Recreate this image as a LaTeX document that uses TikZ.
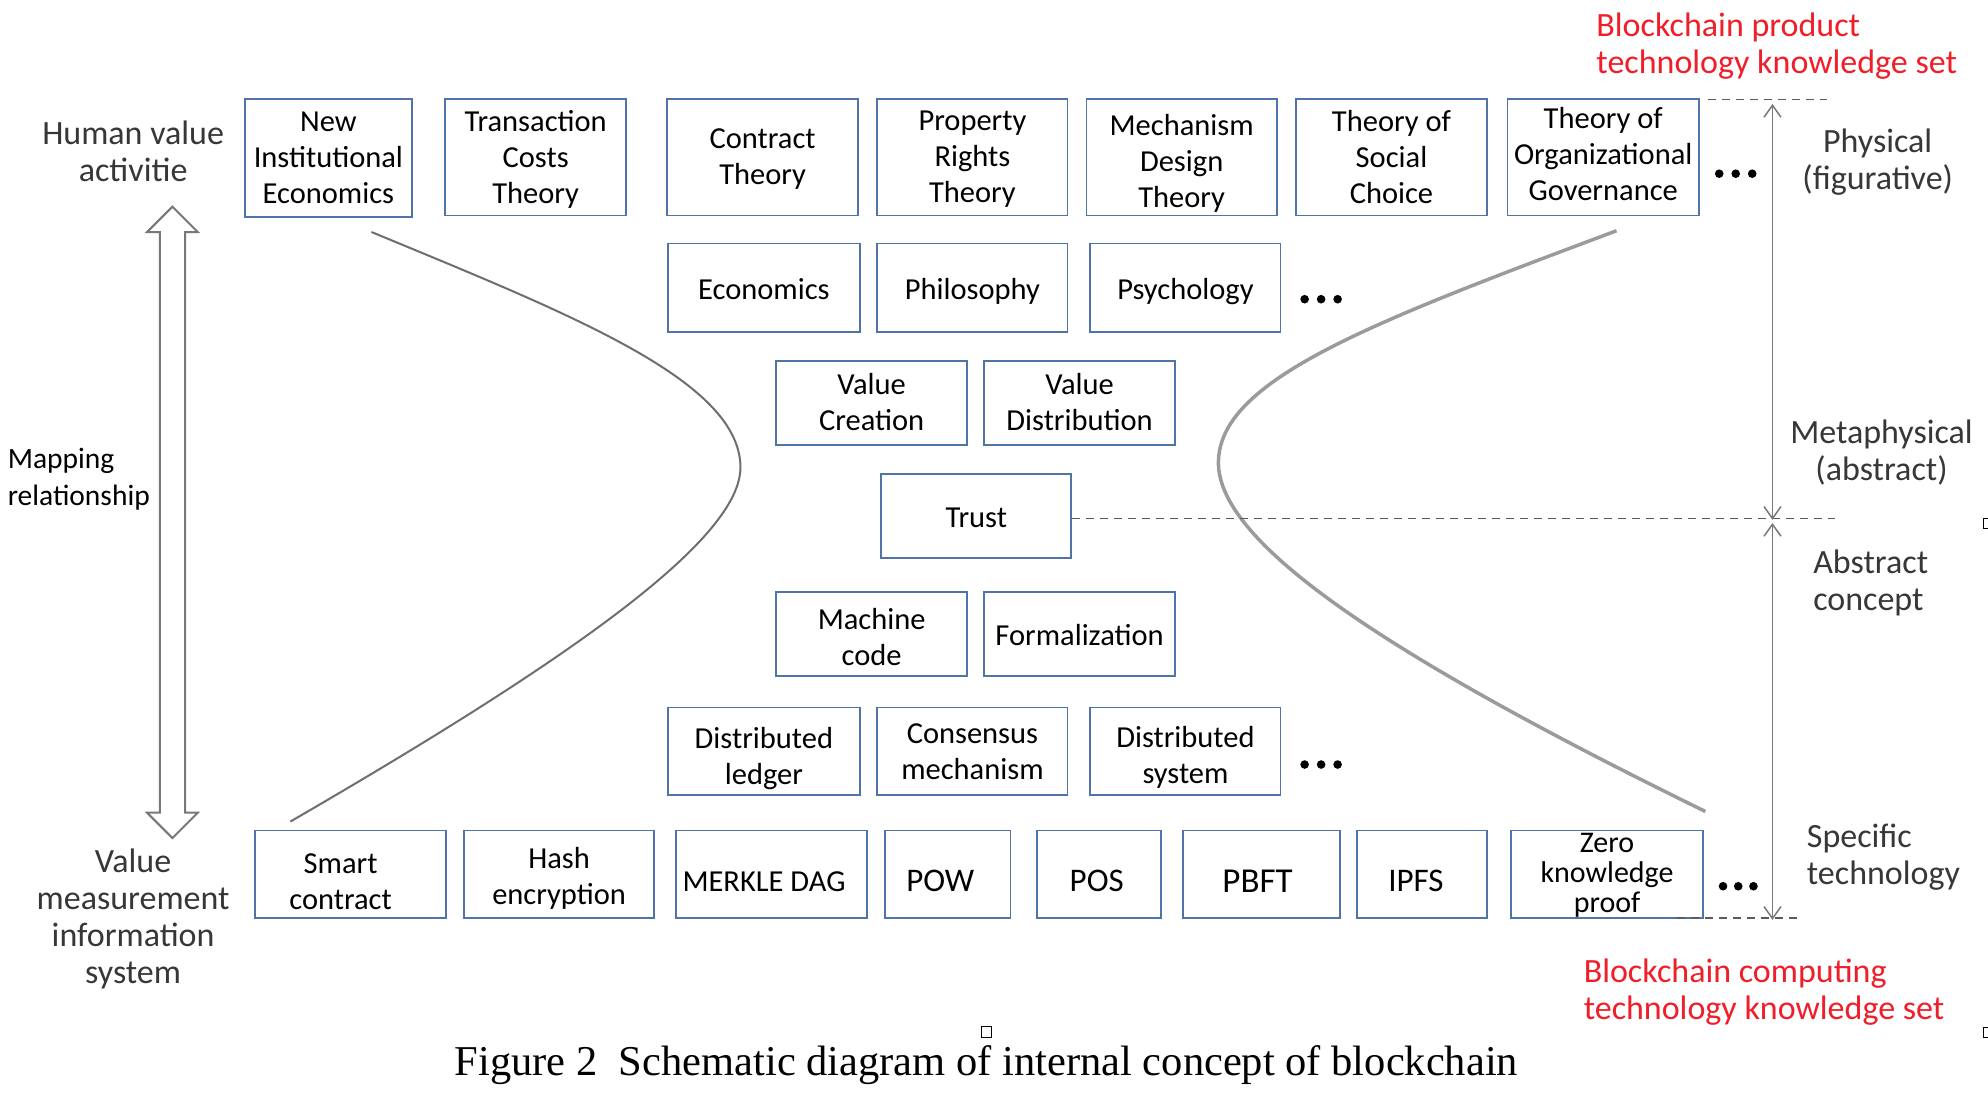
\documentclass[tikz,border=0pt]{standalone}
\usepackage{fontspec}
\setmainfont{Carlito}
\newfontfamily\capfont{Liberation Serif}
\usetikzlibrary{arrows.meta}
\definecolor{boxblue}{RGB}{80,115,170}
\definecolor{redlab}{RGB}{240,30,40}
\definecolor{sidegray}{RGB}{55,55,55}
\definecolor{curveL}{RGB}{110,110,110}
\definecolor{curveR}{RGB}{155,155,155}
\definecolor{dashgray}{RGB}{90,90,90}
\definecolor{arrgray}{RGB}{120,120,120}
\newcommand{\fst}[1]{\rule{0pt}{#1pt}}
\tikzset{
 ts/.style={execute at begin node={\rule{0pt}{#1pt}}},
 bx/.style={draw=boxblue, line width=1.8pt, inner sep=0pt, align=center, font=\fontsize{30.5}{36}\selectfont, text=black,
   ts=30, execute at end node={\rule[-8pt]{0pt}{8pt}}},
 side/.style={inner sep=0pt, text=sidegray, align=center, font=\fontsize{34}{37}\selectfont},
 redl/.style={inner sep=0pt, text=redlab, align=left, anchor=west, font=\fontsize{34}{37}\selectfont},
 dsh/.style={draw=dashgray, line width=1.3pt, dash pattern=on 8pt off 6pt},
 vline/.style={draw=arrgray, line width=1.5pt, {Straight Barb[length=12pt,width=17pt]}-{Straight Barb[length=12pt,width=17pt]}},
 hollow/.style={draw=arrgray, line width=2pt, fill=white},
 dotm/.style={fill=black},
 anchorbox/.style={draw=black, line width=0.8pt}
}
\newcommand{\bxn}[7][]{\node[bx,#1, minimum width={(#5-#3)*1.268pt}, minimum height={(#6-#4)*1.268pt}] (#2) at ({(#3+#5)/2},{(#4+#6)/2}) {#7};}
\begin{document}
\begin{tikzpicture}[x=1.268pt, y=-1.268pt]
\useasboundingbox (0,0) rectangle (1568,879);
% top row
\bxn{nie}{193}{78}{325}{171}{\fst{27}New\\Institutional\\Economics}
\bxn{tct}{351}{78}{494}{170}{\fst{28}Transaction\\Costs\\Theory}
\bxn{ct}{526}{78}{677}{170}{\fst{27}Contract\\Theory}
\bxn{prt}{692}{78}{842}{170}{\fst{27}Property\\Rights\\Theory}
\bxn{mdt}{857}{78}{1007}{170}{\fst{36}Mechanism\\Design\\Theory}
\bxn{tsc}{1022}{78}{1173}{170}{\fst{28.5}Theory of\\Social\\Choice}
\bxn{tog}{1189}{78}{1340}{170}{\fst{23.5}Theory of\\Organizational\\Governance}
% second row
\bxn[ts=32]{eco}{527}{192}{678}{262}{Economics}
\bxn[ts=32]{phi}{692}{192}{842}{262}{Philosophy}
\bxn[ts=32]{psy}{860}{192}{1010}{262}{Psychology}
% value
\bxn{vc}{612}{285}{763}{351}{\fst{26}Value\\Creation}
\bxn{vd}{776}{285}{927}{351}{\fst{26}Value\\Distribution}
\bxn[ts=24]{trust}{695}{374}{845}{440}{Trust}
\bxn{mc}{612}{467}{763}{533}{\fst{36}Machine\\code}
\bxn[ts=32]{form}{776}{467}{927}{533}{Formalization}
% distributed row
\bxn{dl}{527}{558}{678}{627}{\fst{38.5}Distributed\\ledger}
\bxn{cm}{692}{558}{842}{627}{\fst{29.5}Consensus\\mechanism}
\bxn{ds}{860}{558}{1010}{627}{\fst{36}Distributed\\system}
% bottom row
\bxn{sc}{201}{655}{352}{724}{\fst{42}Smart\hspace*{20pt}\\contract\hspace*{20pt}}
\bxn{he}{366}{655}{516}{724}{\fst{33.5}Hash\\encryption}
\bxn[ts=42]{md}{533}{655}{684}{724}{MERKLE DAG\hspace*{15pt}}
\bxn[ts=42,font=\fontsize{33}{36}\selectfont]{pow}{698}{655}{797}{724}{POW\hspace*{15pt}}
\bxn[ts=42,font=\fontsize{33}{36}\selectfont]{pos}{818}{655}{916}{724}{POS\hspace*{5pt}}
\bxn[ts=44,font=\fontsize{35}{36}\selectfont]{pbft}{933}{655}{1057}{724}{PBFT\hspace*{8pt}}
\bxn[ts=42,font=\fontsize{33}{36}\selectfont]{ipfs}{1070}{655}{1173}{724}{IPFS\hspace*{12pt}}
\bxn[inner ysep=-6pt,font=\fontsize{30}{30}\selectfont]{zkp}{1192}{655}{1343}{724}{\fst{24.5}Zero\\knowledge\\proof}
% dots
\foreach \x in {1356,1369,1382} \fill[dotm] (\x,137) circle (4.3pt);
\foreach \x in {1029,1042,1055} \fill[dotm] (\x,236) circle (4.3pt);
\foreach \x in {1029,1042,1055} \fill[dotm] (\x,603) circle (4.3pt);
\foreach \x in {1359,1371,1383} \fill[dotm] (\x,699) circle (4.3pt);
% curves
\draw[curveL, line width=2pt] (293,183) .. controls (450,248) and (583,300) .. (584,368) .. controls (585,425) and (450,520) .. (229,648);
\draw[curveR, line width=3.5pt] (1275,182) .. controls (1080,255) and (961,300) .. (961,365) .. controls (961,430) and (1100,520) .. (1345,640);
% dashed lines
\coordinate (dt1) at (1347,78.5);
\coordinate (dt2) at (1441,78.5);
\coordinate (dm2) at (1447,409);
\coordinate (db1) at (1323,724);
\coordinate (db2) at (1417,724);
\draw[dsh] (dt1) -- (dt2);
\draw[dsh] (trust.east |- dm2) -- (dm2);
\draw[dsh] (db1) -- (db2);
% vertical arrows
\coordinate (va1) at (1398,82);
\coordinate (va2) at (1398,410);
\coordinate (vb1) at (1398,412.5);
\coordinate (vb2) at (1398,725.5);
\draw[vline] (va1) -- (va2);
\draw[vline] (vb1) -- (vb2);
% hollow double arrow
\draw[hollow] (136,163) -- (156,183) -- (146,183) -- (146,641) -- (156,641) -- (136,661) -- (116,641) -- (126,641) -- (126,183) -- (116,183) -- cycle;
% side labels
\node[side] (human) at (105,119) {Human value\\activitie};
\node[side, align=left, anchor=west, text=black, font=\fontsize{29.5}{37}\selectfont] (mapping) at (6,378) {Mapping\\relationship};
\node[side] (vmis) at (105,725) {Value\\measurement\\information\\system};
\node[side] (phys) at (1481,128) {Physical\\(figurative)};
\node[side] (meta) at (1484,357) {Metaphysical\\(abstract)};
\node[side, align=left, anchor=west] (abs) at (1430,460) {Abstract\\concept};
\node[side, align=left, anchor=west] (spec) at (1425,676) {Specific\\technology};
\node[redl] (redtop) at (1259,36.5) {Blockchain product\\technology knowledge set};
\node[redl] (redbot) at (1249,782.5) {Blockchain computing\\technology knowledge set};
% caption
\node[inner sep=0pt, anchor=base, font=\capfont\fontsize{42.5}{48}\selectfont] (cap) at (778,848) {Figure 2~~Schematic diagram of internal concept of blockchain};
% small anchor squares
\draw[anchorbox] (773.7,809.7) rectangle (782.3,818.3);
\draw[anchorbox] (1564.7,408.5) rectangle (1573.4,417);
\draw[anchorbox] (1564.7,810) rectangle (1573.4,818.6);
\end{tikzpicture}
\end{document}
